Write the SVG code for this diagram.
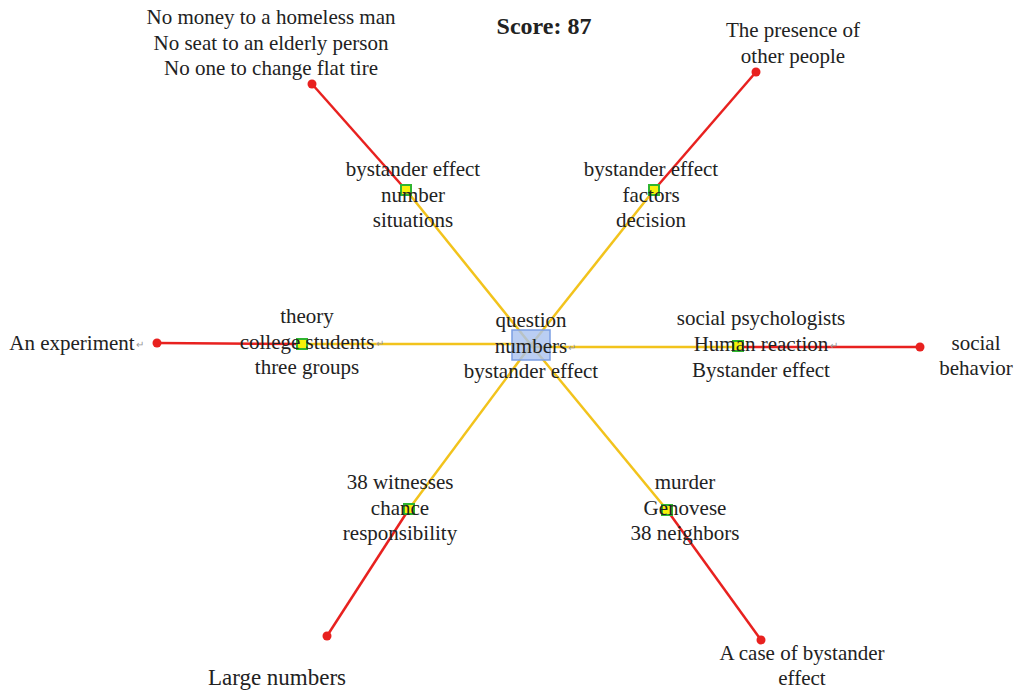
<svg xmlns="http://www.w3.org/2000/svg" width="1014" height="690" viewBox="0 0 1014 690">
<style>
text{font-family:"Liberation Serif","Times New Roman",serif;font-size:21px;fill:#222;text-anchor:middle}
.y{stroke:#f2c31c;stroke-width:2.5;fill:none}
.r{stroke:#e8211f;stroke-width:2.5;fill:none}
.dot{fill:#e8211f}
.sq{fill:#f7f20a;stroke:#2fb52f;stroke-width:2}
.pm{font-size:10px;fill:#999;text-anchor:start}
</style>
<rect width="1014" height="690" fill="#fff"/>
<g id="connectors">
<line class="y" x1="531" y1="345" x2="406" y2="190"/>
<line class="y" x1="531" y1="345" x2="654" y2="190"/>
<line class="y" x1="531" y1="344" x2="302" y2="344"/>
<line class="y" x1="531" y1="347" x2="738" y2="347"/>
<line class="y" x1="531" y1="345" x2="409" y2="509"/>
<line class="y" x1="531" y1="345" x2="667" y2="510"/>
<line class="r" x1="406" y1="190" x2="312" y2="84"/>
<line class="r" x1="654" y1="190" x2="756" y2="72"/>
<line class="r" x1="302" y1="344" x2="157" y2="343"/>
<line class="r" x1="738" y1="347" x2="920" y2="347"/>
<line class="r" x1="409" y1="509" x2="327" y2="636"/>
<line class="r" x1="667" y1="510" x2="761" y2="640"/>
<circle class="dot" cx="312" cy="84" r="4.5"/>
<circle class="dot" cx="756" cy="72" r="4.5"/>
<circle class="dot" cx="157" cy="343" r="4.5"/>
<circle class="dot" cx="920" cy="347" r="4.5"/>
<circle class="dot" cx="327" cy="636" r="4.5"/>
<circle class="dot" cx="761" cy="640" r="4.5"/>
</g>
<text x="544" y="34" style="font-weight:bold;font-size:24px">Score: 87</text>
<g id="center">
<rect x="512" y="330" width="38" height="30" fill="#a9c2f0" fill-opacity="0.8" stroke="#7b9ee3" stroke-width="1.5"/>
<text x="531" y="327">question</text>
<text x="531" y="353">numbers</text>
<text class="pm" x="568" y="351">↵</text>
<text x="531" y="378">bystander effect</text>
</g>
<g id="n-topleft">
<rect class="sq" x="401" y="185" width="10" height="10"/>
<text x="413" y="176">bystander effect</text>
<text x="413" y="202">number</text>
<text x="413" y="227">situations</text>
</g>
<g id="n-topright">
<rect class="sq" x="649" y="185" width="10" height="10"/>
<text x="651" y="176">bystander effect</text>
<text x="651" y="202">factors</text>
<text x="651" y="227">decision</text>
</g>
<g id="n-left">
<rect class="sq" x="297" y="339" width="10" height="10"/>
<text x="307" y="323">theory</text>
<text x="307" y="349">college students</text>
<text class="pm" x="376" y="347">↵</text>
<text x="307" y="374">three groups</text>
</g>
<g id="n-right">
<rect class="sq" x="733" y="341" width="10" height="10"/>
<text x="761" y="325">social psychologists</text>
<text x="761" y="351">Human reaction</text>
<text class="pm" x="830" y="349">↵</text>
<text x="761" y="377">Bystander effect</text>
</g>
<g id="n-bottomleft">
<rect class="sq" x="404" y="504" width="10" height="10"/>
<text x="400" y="489">38 witnesses</text>
<text x="400" y="515">chance</text>
<text x="400" y="540">responsibility</text>
</g>
<g id="n-bottomright">
<rect class="sq" x="662" y="505" width="10" height="10"/>
<text x="685" y="489">murder</text>
<text x="685" y="515">Genovese</text>
<text x="685" y="540">38 neighbors</text>
</g>
<g id="o-topleft">
<text x="271" y="24">No money to a homeless man</text>
<text x="271" y="50">No seat to an elderly person</text>
<text x="271" y="75">No one to change flat tire</text>
</g>
<g id="o-topright">
<text x="793" y="37">The presence of</text>
<text x="793" y="63">other people</text>
</g>
<g id="o-left">
<text x="72" y="350">An experiment</text>
<text class="pm" x="136" y="348">↵</text>
</g>
<g id="o-right">
<text x="976" y="350">social</text>
<text x="976" y="375">behavior</text>
</g>
<g id="o-bottomleft">
<text x="277" y="685" style="font-size:23px">Large numbers</text>
</g>
<g id="o-bottomright">
<text x="802" y="660">A case of bystander</text>
<text x="802" y="685">effect</text>
</g>
</svg>
